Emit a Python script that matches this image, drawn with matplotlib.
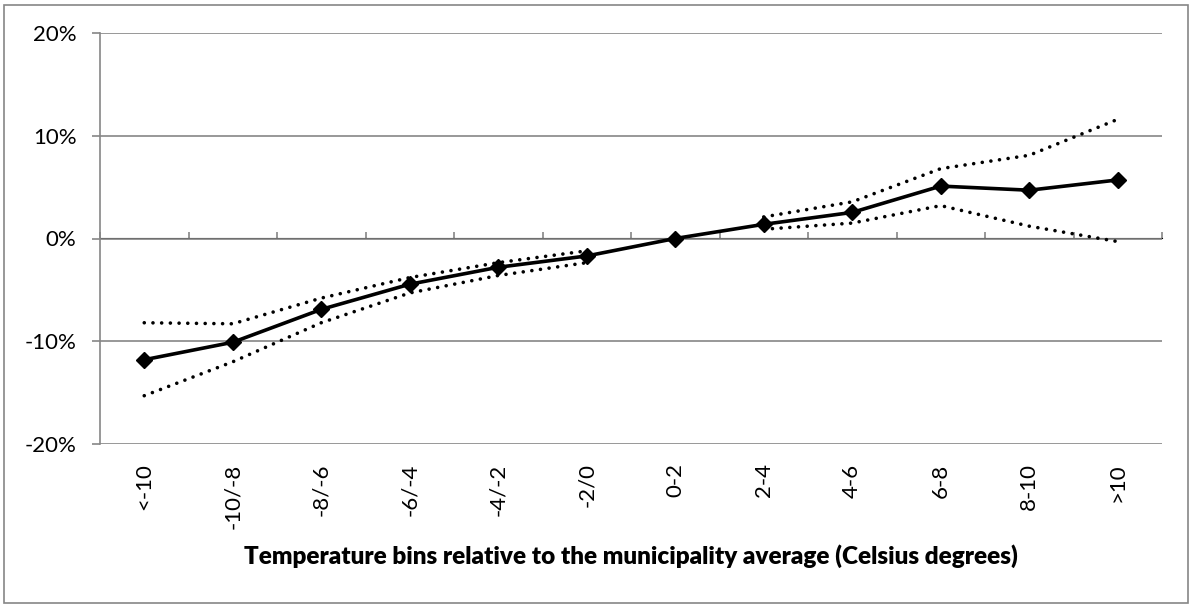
import numpy as np
import matplotlib
matplotlib.use("Agg")
import matplotlib.pyplot as plt
from matplotlib.patches import Rectangle
from matplotlib.ticker import FuncFormatter

plt.rcParams['font.family'] = ['Lato', 'DejaVu Sans']

categories = ['<-10', '-10/-8', '-8/-6', '-6/-4', '-4/-2', '-2/0',
              '0-2', '2-4', '4-6', '6-8', '8-10', '>10']
estimate = [-11.8, -10.1, -6.9, -4.45, -2.8, -1.7, 0.0, 1.38, 2.54, 5.1, 4.7, 5.7]
upper = [-8.2, -8.3, -5.8, -3.8, -2.35, -1.2, np.nan, 2.1, 3.57, 6.8, 8.1, 11.6]
lower = [-15.3, -12.0, -8.2, -5.3, -3.6, -2.35, np.nan, 0.9, 1.5, 3.2, 1.2, -0.3]
y_ticks = [-20, -10, 0, 10, 20]
x_label = 'Temperature bins relative to the municipality average (Celsius degrees)'

W, H = 1192, 604
fig = plt.figure(figsize=(W / 100, H / 100), dpi=100)
ax = fig.add_axes([100 / W, (H - 444) / H, (1162 - 100) / W, (444 - 33) / H])

grid_col = '#868686'
x = np.arange(len(categories))

ax.set_xlim(-0.5, len(categories) - 0.5)
ax.set_ylim(-20, 20)
ax.set_yticks(y_ticks)
ax.yaxis.set_major_formatter(FuncFormatter(lambda v, p: f'{v:.0f}%'))
ax.grid(axis='y', color=grid_col, linewidth=1.2, zorder=0)
ax.set_axisbelow(True)

for s in ['top', 'right', 'bottom']:
    ax.spines[s].set_visible(False)
ax.spines['left'].set_color(grid_col)
ax.spines['left'].set_linewidth(1.2)

ax.tick_params(axis='y', length=6, width=1.2, color=grid_col, pad=11,
               labelsize=16, labelcolor='black')
ax.set_xticks(x)
ax.set_xticklabels(categories, rotation=90)
ax.tick_params(axis='x', length=0, pad=14, labelsize=16, labelcolor='black')
ax.set_xlabel(x_label, fontsize=17.5, fontweight='heavy', labelpad=11)

# category-axis line at 0 with boundary ticks
sec = ax.secondary_xaxis(0.5)
sec.set_xticks(np.arange(len(categories) + 1) - 0.5)
sec.set_xticklabels([])
sec.tick_params(axis='x', length=4, width=1.2, color=grid_col, direction='out')
sec.spines['bottom'].set_color(grid_col)
sec.spines['bottom'].set_linewidth(1.2)

dot = (0, (0.01, 2.4))
ax.plot(x, upper, color='black', linewidth=2.6, linestyle=dot,
        dash_capstyle='round', zorder=3)
ax.plot(x, lower, color='black', linewidth=2.6, linestyle=dot,
        dash_capstyle='round', zorder=3)
ax.plot(x, estimate, color='black', linewidth=2.6, marker='D',
        markersize=8, zorder=4)

fig.patches.append(Rectangle((4 / W, 1 / H), (1188 - 4) / W, (601 - 3) / H,
                             transform=fig.transFigure, fill=False,
                             edgecolor=grid_col, linewidth=1.2))

fig.savefig('out.png', dpi=100)
